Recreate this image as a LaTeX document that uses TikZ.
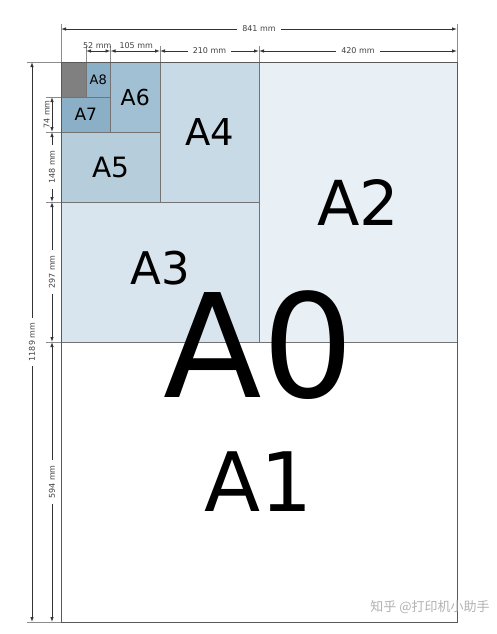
\documentclass[tikz,border=0pt]{standalone}
\usepackage{fontspec}
\setmainfont{DejaVu Sans}
\newfontfamily\cjk{Noto Sans CJK SC}
\usetikzlibrary{arrows.meta, calc}
\definecolor{sheetA2}{HTML}{E8EFF5}
\definecolor{sheetA3}{HTML}{D9E5EE}
\definecolor{sheetA4}{HTML}{C8DAE5}
\definecolor{sheetA5}{HTML}{B6CDDC}
\definecolor{sheetA6}{HTML}{A2C0D3}
\definecolor{sheetA7}{HTML}{8BAFC7}
\definecolor{sheetA9}{HTML}{808080}
\newcommand{\labelsize}[1]{\fontsize{#1}{#1}\selectfont}
\tikzset{
  sheet/.style = {rectangle, draw=black!55, line width=0.7pt, inner sep=0pt, outer sep=0pt, text=black},
  dimline/.style = {{Latex[length=5pt,width=3.5pt]}-{Latex[length=5pt,width=3.5pt]}, line width=0.8pt, black!80},
  extline/.style = {black!45, line width=0.7pt},
  dimtext/.style = {font=\labelsize{8}, text=black!75, inner sep=1pt},
  gap/.style = {fill=white, inner xsep=5pt}
}

\begin{document}
\begin{tikzpicture}[x=1pt, y=-1pt]
  \useasboundingbox (0,0) rectangle (496,634);

  % Sheets, each one cut from the one before
  \node (a1) [sheet, fill=white, minimum width=396pt, minimum height=280pt, anchor=north west] at (61,342) {\labelsize{82}A1};
  \node (a2) [sheet, fill=sheetA2, minimum width=198pt, minimum height=280pt, anchor=south west] at (a1.north) {\labelsize{62}A2};
  \node (a3) [sheet, fill=sheetA3, minimum width=198pt, minimum height=140pt, anchor=south east] at (a2.south west) {};
  \node (a4) [sheet, fill=sheetA4, minimum width=99pt, minimum height=140pt, anchor=south west] at (a3.north) {\labelsize{37}A4};
  \node (a5) [sheet, fill=sheetA5, minimum width=99pt, minimum height=70pt, anchor=south east] at (a3.north) {\labelsize{28}A5};
  \node (a6) [sheet, fill=sheetA6, minimum width=49.5pt, minimum height=70pt, anchor=south east] at (a5.north east) {\labelsize{22}A6};
  \node (a7) [sheet, fill=sheetA7, minimum width=49.5pt, minimum height=35pt, anchor=south west] at (a5.north west) {\labelsize{17}A7};
  \node (a8) [sheet, fill=sheetA7, minimum width=24.5pt, minimum height=35pt, anchor=south east] at (a7.north east) {\labelsize{13}A8};
  \node (a9) [sheet, fill=sheetA9, minimum width=25pt, minimum height=35pt, anchor=south west] at (a7.north west) {};
  \node (a3 label) [yshift=3.5pt, font=\labelsize{45}] at (a3.center) {A3};

  % Whole paper
  \node (a0) [sheet, draw=black!65, line width=0.9pt, minimum width=396pt, minimum height=560pt, anchor=south west] at (a1.south west) {};
  \node (a0 label) [yshift=-3.5pt, font=\labelsize{144}] at (a0.center) {A0};

  % Rows and columns of the dimensions
  \coordinate (top) at (0,24);
  \coordinate (row1) at (0,29);
  \coordinate (tick) at (0,46);
  \coordinate (row2) at (0,51);
  \coordinate (left) at (27,0);
  \coordinate (col1) at (32,0);
  \coordinate (ltick) at (46,0);
  \coordinate (col2) at (52,0);

  % Extension lines
  \draw[extline] (a0.north west) -- (a0.north west |- top);
  \draw[extline] (a0.north east) -- (a0.north east |- top);
  \foreach \s in {a8.north west, a8.north east, a6.north east, a4.north east}
    \draw[extline] (\s) -- (\s |- tick);
  \draw[extline] (a0.north west) -- (a0.north west -| left);
  \draw[extline] (a0.south west) -- (a0.south west -| left);
  \foreach \s in {a7.north west, a5.north west, a3.north west, a1.north west}
    \draw[extline] (\s) -- (\s -| ltick);

  % Widths
  \draw[dimline] (a0.north west |- row1) -- node[dimtext, gap] {841 mm} (a0.north east |- row1);
  \draw[dimline] (a8.north west |- row2) -- node[dimtext, above=1pt, xshift=-1pt] {52 mm} (a8.north east |- row2);
  \draw[dimline] (a6.north west |- row2) -- node[dimtext, above=1pt, xshift=1pt] {105 mm} (a6.north east |- row2);
  \draw[dimline] (a4.north west |- row2) -- node[dimtext, gap] {210 mm} (a4.north east |- row2);
  \draw[dimline] (a2.north west |- row2) -- node[dimtext, gap] {420 mm} (a2.north east |- row2);

  % Heights
  \draw[dimline] (a0.north west -| col1) -- node[dimtext, gap, rotate=90] {1189 mm} (a0.south west -| col1);
  \draw[dimline] (a7.north west -| col2) -- node[dimtext, rotate=90, anchor=south, yshift=1pt] {74 mm} (a7.south west -| col2);
  \draw[dimline] (a5.north west -| col2) -- node[dimtext, gap, rotate=90] {148 mm} (a5.south west -| col2);
  \draw[dimline] (a3.north west -| col2) -- node[dimtext, gap, rotate=90] {297 mm} (a3.south west -| col2);
  \draw[dimline] (a1.north west -| col2) -- node[dimtext, gap, rotate=90] {594 mm} (a1.south west -| col2);

  % Watermark
  \node (mark) [font=\cjk\labelsize{13}, text=black!30] at (430,607) {知乎 @打印机小助手};
\end{tikzpicture}
\end{document}
